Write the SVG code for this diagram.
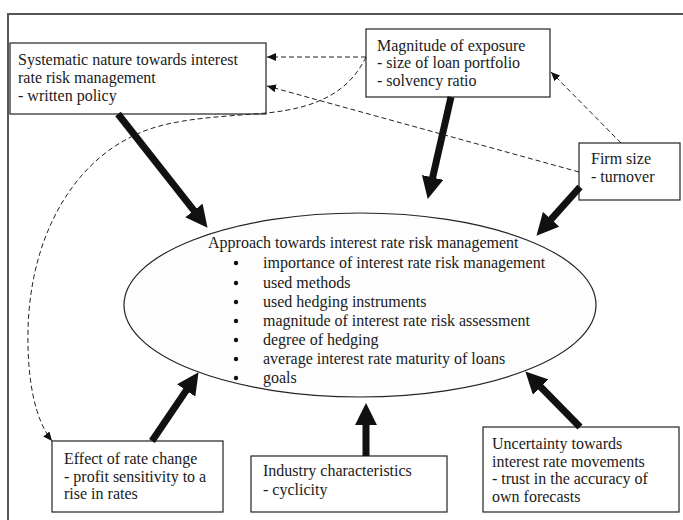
<svg xmlns="http://www.w3.org/2000/svg" width="683" height="520" viewBox="0 0 683 520">
<style>
  text { font-family: "Liberation Serif", "Times New Roman", serif; font-size: 16px; fill: #1a1a1a; }
  .box { fill: #ffffff; stroke: #222; stroke-width: 1.2; }
  .thick { stroke: #111; stroke-width: 7; fill: none; marker-end: url(#big); }
  .dash { stroke: #222; stroke-width: 1; stroke-dasharray: 5 3; fill: none; marker-end: url(#small); }
</style>
<defs>
  <marker id="big" markerUnits="userSpaceOnUse" markerWidth="22" markerHeight="22" viewBox="0 0 20 20" refX="1" refY="10" orient="auto">
    <path d="M0,0 L20,10 L0,20 z" fill="#111"/>
  </marker>
  <marker id="small" markerUnits="userSpaceOnUse" markerWidth="9" markerHeight="8" viewBox="0 0 9 8" refX="9" refY="4" orient="auto">
    <path d="M0,0 L9,4 L0,8 z" fill="#111"/>
  </marker>
</defs>
<rect x="0" y="0" width="683" height="520" fill="#ffffff"/>
<rect x="8" y="14" width="700" height="540" fill="none" stroke="#555" stroke-width="2"/>

<g id="center">
  <ellipse cx="360" cy="305" rx="236" ry="92" fill="#fdfdfd" stroke="#222" stroke-width="1.2"/>
  <text x="208" y="248">Approach towards interest rate risk management</text>
  <g fill="#111">
    <circle cx="236" cy="263" r="2.2"/><circle cx="236" cy="283" r="2.2"/><circle cx="236" cy="302" r="2.2"/>
    <circle cx="236" cy="321" r="2.2"/><circle cx="236" cy="340" r="2.2"/><circle cx="236" cy="359" r="2.2"/>
    <circle cx="236" cy="378" r="2.2"/>
  </g>
  <text x="263" y="268">importance of interest rate risk management</text>
  <text x="263" y="288">used methods</text>
  <text x="263" y="307">used hedging instruments</text>
  <text x="263" y="326">magnitude of interest rate risk assessment</text>
  <text x="263" y="345">degree of hedging</text>
  <text x="263" y="364">average interest rate maturity of loans</text>
  <text x="263" y="383">goals</text>
</g>

<g id="systematic">
  <rect class="box" x="10" y="43" width="256" height="71"/>
  <text x="18" y="65">Systematic nature towards interest</text>
  <text x="18" y="83">rate risk management</text>
  <text x="18" y="101">- written policy</text>
</g>

<g id="magnitude">
  <rect class="box" x="366" y="29" width="184" height="68"/>
  <text x="377" y="51">Magnitude of exposure</text>
  <text x="377" y="68">- size of loan portfolio</text>
  <text x="377" y="86">- solvency ratio</text>
</g>

<g id="firmsize">
  <rect class="box" x="579" y="143" width="101" height="57"/>
  <text x="591" y="164">Firm size</text>
  <text x="591" y="182">- turnover</text>
</g>

<g id="effect">
  <rect class="box" x="52" y="441" width="171" height="71"/>
  <text x="64" y="464">Effect of rate change</text>
  <text x="64" y="482">- profit sensitivity to a</text>
  <text x="64" y="499">rise in rates</text>
</g>

<g id="industry">
  <rect class="box" x="251" y="456" width="196" height="56"/>
  <text x="263" y="476">Industry characteristics</text>
  <text x="263" y="495">- cyclicity</text>
</g>

<g id="uncertainty">
  <rect class="box" x="483" y="427" width="196" height="85"/>
  <text x="492" y="449">Uncertainty towards</text>
  <text x="492" y="467">interest rate movements</text>
  <text x="492" y="484">- trust in the accuracy of</text>
  <text x="492" y="502">own forecasts</text>
</g>

<g id="connectors">
  <line class="thick" x1="118" y1="114" x2="194.6" y2="211.3"/>
  <line class="thick" x1="451" y1="97" x2="432.4" y2="178.5"/>
  <line class="thick" x1="580" y1="187" x2="550.4" y2="220.1"/>
  <line class="thick" x1="152" y1="441" x2="186.8" y2="389.6"/>
  <line class="thick" x1="366" y1="456" x2="366" y2="424"/>
  <line class="thick" x1="580" y1="427" x2="540" y2="386.3"/>
  <line class="dash" x1="366" y1="57" x2="267" y2="57"/>
  <line class="dash" x1="579" y1="172" x2="267" y2="86"/>
  <line class="dash" x1="621" y1="143" x2="551" y2="72"/>
  <path class="dash" d="M366,57 C350,90 320,108 266,113 C220,117 170,118 135,135 C70,165 30,240 28,330 C27,380 35,420 52,441"/>
</g>
</svg>
